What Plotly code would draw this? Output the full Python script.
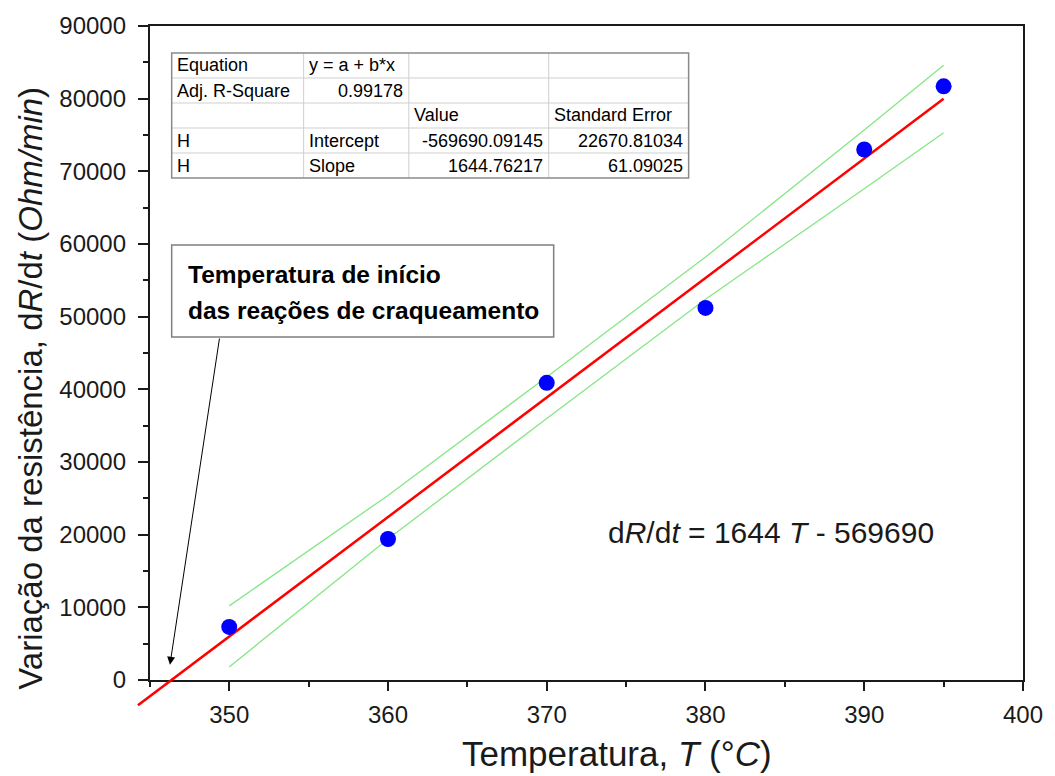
import plotly.graph_objects as go

# ---- data -------------------------------------------------------------
temperature = [350, 360, 370, 380, 390, 395]
dr_dt = [7300, 19400, 40900, 51200, 73000, 81700]

# linear fit y = a + b*x
fit_intercept = -569690.09145
fit_slope = 1644.76217
fit_x = [344.25, 395]

# 95% confidence limits of the fit
band_x = [350, 360, 370, 380, 390, 395]
band_upper = [10200, 25400, 41700, 58200, 75700, 84600]
band_lower = [1800, 19400, 36000, 52400, 67600, 75300]

x_ticks = [350, 360, 370, 380, 390, 400]
y_ticks = [0, 10000, 20000, 30000, 40000, 50000, 60000, 70000, 80000, 90000]

table_rows = [
    ["Equation", "y = a + b*x", "", ""],
    ["Adj. R-Square", "0.99178", "", ""],
    ["", "", "Value", "Standard Error"],
    ["H", "Intercept", "-569690.09145", "22670.81034"],
    ["H", "Slope", "1644.76217", "61.09025"],
]
table_align = [
    ["l", "l", "l", "l"],
    ["l", "r", "l", "l"],
    ["l", "l", "l", "l"],
    ["l", "l", "r", "r"],
    ["l", "l", "r", "r"],
]

# ---- layout geometry --------------------------------------------------
W, H = 1055, 776
L, R, T, B = 130, 25, 26, 60
PW, PH = W - L - R, H - T - B


def fx(px):
    return (px - L) / PW


def fy(py):
    return (H - B - py) / PH


FONT = "Arial, 'Liberation Sans', sans-serif"
INK = "#1a1a1a"
X_RANGE = [345, 400]
Y_RANGE = [0, 90000]
X_EXT = 344          # the fit line runs a little past the axes
Y_EXT = -4500

xd = [fx(150), fx(1030)]
yd = [fy(680), fy(26)]
x2_lo = xd[0] - (X_RANGE[0] - X_EXT) * (xd[1] - xd[0]) / (X_RANGE[1] - X_RANGE[0])
y2_lo = yd[0] - (Y_RANGE[0] - Y_EXT) * (yd[1] - yd[0]) / (Y_RANGE[1] - Y_RANGE[0])

fig = go.Figure()

# confidence limits
for band in (band_upper, band_lower):
    fig.add_trace(go.Scatter(
        x=band_x, y=band, mode="lines", xaxis="x2", yaxis="y2",
        line=dict(color="#86E686", width=1.3), showlegend=False, hoverinfo="skip"))

# fitted line
fit_y = [fit_intercept + fit_slope * v for v in fit_x]
fig.add_trace(go.Scatter(
    x=fit_x, y=fit_y, mode="lines", xaxis="x2", yaxis="y2",
    line=dict(color="#FF0000", width=2.5), showlegend=False))

# measured points
fig.add_trace(go.Scatter(
    x=temperature, y=dr_dt, mode="markers", xaxis="x2", yaxis="y2",
    marker=dict(color="#0000FF", size=16, line=dict(width=0)), showlegend=False))

axis_common = dict(
    showline=True, linecolor=INK, linewidth=2, mirror=True,
    ticks="outside", tickcolor=INK, tickwidth=2,
    showgrid=False, zeroline=False,
    tickfont=dict(family=FONT, size=24, color=INK),
)

fig.update_layout(
    width=W, height=H,
    margin=dict(l=L, r=R, t=T, b=B),
    paper_bgcolor="white", plot_bgcolor="rgba(0,0,0,0)",
    showlegend=False,
    xaxis=dict(domain=xd, range=X_RANGE, anchor="y", tickvals=x_ticks, ticklen=9,
               minor=dict(dtick=5, tick0=345, ticks="outside", ticklen=5, tickwidth=1.5,
                          tickcolor=INK, showgrid=False),
               ticklabelstandoff=3, **axis_common),
    yaxis=dict(domain=yd, range=Y_RANGE, anchor="x", tickvals=y_ticks, ticklen=10,
               tickformat="d",
               minor=dict(dtick=5000, tick0=0, ticks="outside", ticklen=5, tickwidth=1.5,
                          tickcolor=INK, showgrid=False),
               ticklabelstandoff=7, **axis_common),
    xaxis2=dict(domain=[x2_lo, xd[1]], range=[X_EXT, X_RANGE[1]], anchor="y2", visible=False),
    yaxis2=dict(domain=[y2_lo, yd[1]], range=[Y_EXT, Y_RANGE[1]], anchor="x2", visible=False),
)

shapes = []
annotations = []

# axis titles
annotations.append(dict(
    xref="paper", yref="paper", x=fx(30), y=fy(388), xanchor="center", yanchor="middle",
    showarrow=False,
    text="Variação da resistência, d<i>R</i>/d<i>t</i> (<i>Ohm/min</i>)",
    textangle=-90, font=dict(family=FONT, size=33, color=INK)))
annotations.append(dict(
    xref="paper", yref="paper", x=fx(621), y=fy(753), xanchor="center", yanchor="middle",
    showarrow=False,
    text="Temperatura, <i>T</i> (°<i>C</i>)",
    font=dict(family=FONT, size=35, color=INK)))

# fit equation
annotations.append(dict(
    xref="paper", yref="paper", x=fx(776), y=fy(532), xanchor="center", yanchor="middle",
    showarrow=False,
    text="d<i>R</i>/d<i>t</i> = 1644 <i>T</i> - 569690",
    font=dict(family=FONT, size=30, color=INK)))

# label box with arrow to the onset temperature
shapes.append(dict(type="rect", xref="paper", yref="paper",
                   x0=fx(172), x1=fx(557), y0=fy(337), y1=fy(245),
                   line=dict(color="#7f7f7f", width=1.5), fillcolor="white", layer="above"))
for text, py in (("Temperatura de início", 274), ("das reações de craqueamento", 311)):
    annotations.append(dict(
        xref="paper", yref="paper", x=fx(186), y=fy(py), xanchor="left", yanchor="middle",
        showarrow=False,
        text=f"<b>{text}</b>", font=dict(family=FONT, size=24.5, color="black")))
onset_T = -fit_intercept / fit_slope
annotations.append(dict(
    xref="x", yref="y", x=onset_T - 0.1, y=2100, axref="x", ayref="y",
    ax=349.4, ay=47200, text="", showarrow=True,
    arrowhead=2, arrowsize=1.6, arrowwidth=1, arrowcolor="black"))

# fit statistics table
col_edges = [172, 305, 411, 552, 693]
row_edges = [53, 78, 103, 128, 153, 178]
shapes.append(dict(type="rect", xref="paper", yref="paper",
                   x0=fx(col_edges[0]), x1=fx(col_edges[-1]),
                   y0=fy(row_edges[-1]), y1=fy(row_edges[0]),
                   fillcolor="white", line=dict(width=0), layer="above"))
for ry in row_edges[1:-1]:
    shapes.append(dict(type="line", xref="paper", yref="paper",
                       x0=fx(col_edges[0]), x1=fx(col_edges[-1]), y0=fy(ry), y1=fy(ry),
                       line=dict(color="#cfcfcf", width=1), layer="above"))
for cx in col_edges[1:-1]:
    shapes.append(dict(type="line", xref="paper", yref="paper",
                       x0=fx(cx), x1=fx(cx), y0=fy(row_edges[0]), y1=fy(row_edges[-1]),
                       line=dict(color="#cfcfcf", width=1), layer="above"))
shapes.append(dict(type="rect", xref="paper", yref="paper",
                   x0=fx(col_edges[0]), x1=fx(col_edges[-1]),
                   y0=fy(row_edges[-1]), y1=fy(row_edges[0]),
                   line=dict(color="#8a8a8a", width=1.5), layer="above"))
for i, row in enumerate(table_rows):
    cy = (row_edges[i] + row_edges[i + 1]) / 2
    for j, cell in enumerate(row):
        if not cell:
            continue
        if table_align[i][j] == "l":
            px, anchor = col_edges[j] + 3, "left"
        else:
            px, anchor = col_edges[j + 1] - 4, "right"
        annotations.append(dict(
            xref="paper", yref="paper", x=fx(px), y=fy(cy), xanchor=anchor, yanchor="middle",
            showarrow=False, text=cell, font=dict(family=FONT, size=18, color="black")))

fig.update_layout(shapes=shapes, annotations=annotations)
fig.write_html("out.html")
